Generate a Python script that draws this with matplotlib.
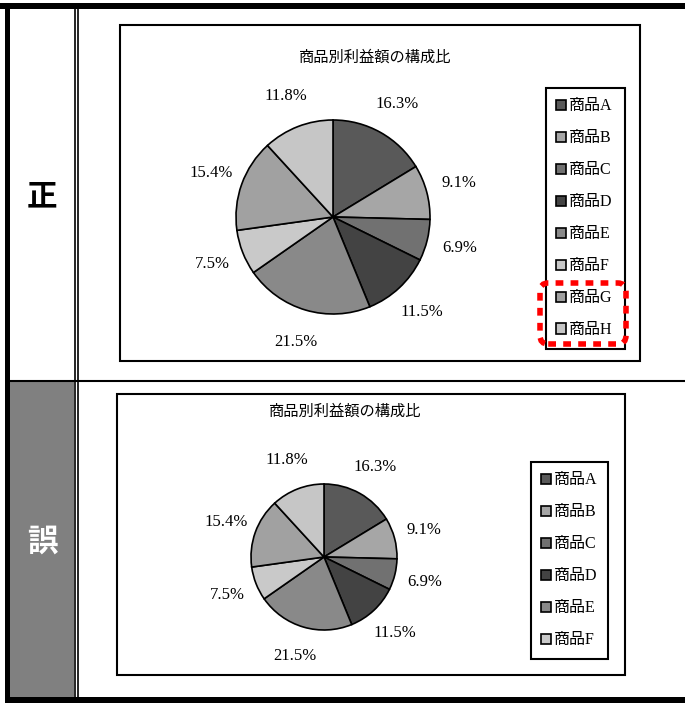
import matplotlib.pyplot as plt
from matplotlib.patches import Rectangle, FancyBboxPatch

# 和文はNoto Sans CJK JP、数字はLiberation Serifで描く
plt.rcParams['font.family'] = ['Liberation Serif', 'Noto Sans CJK JP']

W, H = 685, 703

products = ['商品A', '商品B', '商品C', '商品D', '商品E', '商品F', '商品G', '商品H']
shares = [16.3, 9.1, 6.9, 11.5, 21.5, 7.5, 15.4, 11.8]
colors = ['#595959', '#a6a6a6', '#717171', '#434343', '#898989', '#c9c9c9', '#a1a1a1', '#c6c6c6']
title = '商品別利益額の構成比'
row_labels = ['正', '誤']
legend_count = [8, 6]

fig = plt.figure(figsize=(W / 100, H / 100), dpi=100)


def fx(x):
    return x / W


def fy(y):
    return 1 - y / H


def box(x0, y0, x1, y1, **kw):
    r = Rectangle((fx(x0), fy(y1)), fx(x1) - fx(x0), fy(y0) - fy(y1),
                  transform=fig.transFigure, **kw)
    fig.add_artist(r)
    return r


def vline(x, y0, y1, lw=1.2, color='black'):
    fig.add_artist(plt.Line2D([fx(x), fx(x)], [fy(y0), fy(y1)], transform=fig.transFigure,
                              color=color, lw=lw, solid_capstyle='butt'))


def hline(y, x0, x1, lw=1.5, color='black'):
    fig.add_artist(plt.Line2D([fx(x0), fx(x1)], [fy(y), fy(y)], transform=fig.transFigure,
                              color=color, lw=lw, solid_capstyle='butt'))


# 外枠
box(10, 382, 74, 697, facecolor='#808080', edgecolor='none')
box(0, 3, W, 9, facecolor='black', edgecolor='none')
box(5, 3, 10, 703, facecolor='black', edgecolor='none')
box(5, 697, W, 703, facecolor='black', edgecolor='none')
vline(74.5, 9, 697)
vline(78, 9, 697)
hline(381, 10, W)

fig.text(fx(42), fy(196), row_labels[0], ha='center', va='center', fontsize=22,
         fontweight='bold', family='Noto Sans CJK JP', color='black')
fig.text(fx(42), fy(542), row_labels[1], ha='center', va='center', fontsize=22,
         fontweight='bold', family='Noto Sans CJK JP', color='white')


def draw_panel(frame, title_xy, center, radius, ldist, leg_box, n_leg):
    box(*frame, facecolor='none', edgecolor='black', lw=1.5)
    fig.text(fx(title_xy[0]), fy(title_xy[1]), title, ha='center', va='center',
             fontsize=11, family='Noto Sans CJK JP')

    half = radius * 1.6
    ax = fig.add_axes([fx(center[0] - half), fy(center[1] + half),
                       2 * half / W, 2 * half / H])
    wedges, texts = ax.pie(shares, colors=colors, startangle=90, counterclock=False,
                           labels=[f'{v}%' for v in shares], labeldistance=ldist,
                           wedgeprops=dict(edgecolor='black', linewidth=1.2),
                           textprops=dict(fontsize=12))
    for t in texts:
        t.set_ha('center')
        t.set_va('center')
    ax.set_xlim(-1.6, 1.6)
    ax.set_ylim(-1.6, 1.6)
    ax.axis('off')

    x0, y0, x1, y1 = leg_box
    leg = fig.legend(wedges[:n_leg], products[:n_leg], loc='upper left',
                     bbox_to_anchor=(fx(x0), fy(y1), fx(x1) - fx(x0), fy(y0) - fy(y1)),
                     mode='expand', fancybox=False, edgecolor='black', framealpha=1,
                     handlelength=0.6, handleheight=0.6, handletextpad=0.2,
                     labelspacing=1.0, borderpad=0.65, borderaxespad=0, fontsize=11.5)
    leg.get_frame().set_linewidth(1.5)


draw_panel((120, 25, 640, 361), (375, 57), (333, 217), 97, 1.34, (546, 88, 625, 345), legend_count[0])
draw_panel((117, 394, 625, 675), (345, 411), (324, 557), 73, 1.42, (531, 462, 608, 653), legend_count[1])

# 正しい例で追加された凡例(商品G・H)を赤い点線で囲む
fig.add_artist(FancyBboxPatch((fx(540), fy(344)), fx(626) - fx(540), fy(283) - fy(344),
                              boxstyle='round,pad=0,rounding_size=0.012',
                              transform=fig.transFigure, facecolor='none', zorder=10,
                              edgecolor='#ff0000', lw=4, linestyle=(0, (1.4, 1.3))))

fig.savefig('out.png', dpi=100)
